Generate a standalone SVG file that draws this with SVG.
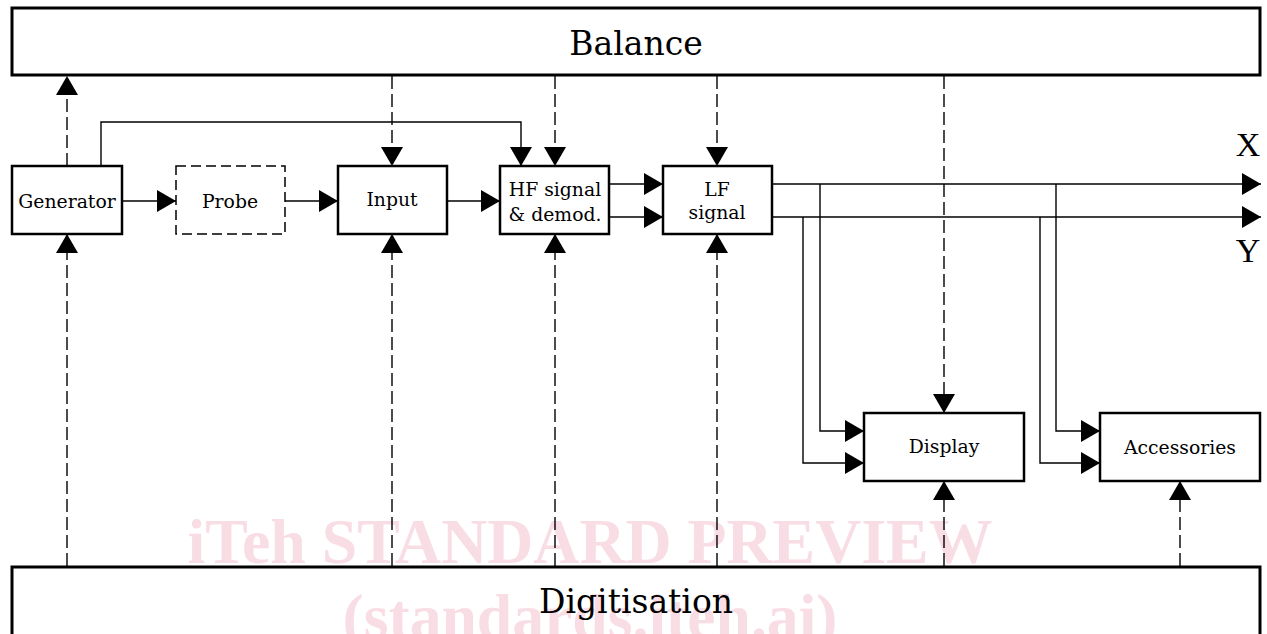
<svg xmlns="http://www.w3.org/2000/svg" width="1267" height="634" viewBox="0 0 1267 634">
<style>
.box{fill:#fff;stroke:#000;stroke-width:2.5}
.probe{fill:#fff;stroke:#000;stroke-width:1.5;stroke-dasharray:10 5}
.big{fill:none;stroke:#000;stroke-width:3}
.lbl{font-family:"DejaVu Serif",serif;font-size:18.8px;text-anchor:middle;fill:#000}
.title{font-family:"DejaVu Serif",serif;font-size:33px;text-anchor:middle;fill:#000}
.xy{font-family:"Liberation Serif",serif;font-size:34px;text-anchor:middle;fill:#000}
.c{fill:none;stroke:#000;stroke-width:1.4}
.d{fill:none;stroke:#000;stroke-width:1.4;stroke-dasharray:13 5}
.wm{font-family:"Liberation Serif",serif;font-weight:bold;font-size:64px;fill:#f9dde5;text-anchor:middle}
</style>
<defs>
<marker id="ah" viewBox="0 0 19 22" refX="19" refY="11" markerWidth="19" markerHeight="22" markerUnits="userSpaceOnUse" orient="auto">
<path d="M0,0 L19,11 L0,22 z" fill="#000" stroke="none"/>
</marker>
</defs>
<g id="watermark">
<text class="wm" x="590" y="563" textLength="805" lengthAdjust="spacingAndGlyphs">iTeh STANDARD PREVIEW</text>
<text class="wm" x="590" y="638" textLength="495" lengthAdjust="spacingAndGlyphs">(standards.iteh.ai)</text>
</g>
<g id="balance">
<rect class="big" x="12" y="8" width="1248" height="67"/>
<text class="title" x="636" y="55">Balance</text>
</g>
<g id="digitisation">
<rect class="big" x="12" y="567" width="1248" height="80"/>
<text class="title" x="636" y="613">Digitisation</text>
</g>
<g id="generator">
<rect class="box" x="12" y="166" width="110" height="68"/>
<text class="lbl" x="67" y="208">Generator</text>
</g>
<g id="probe">
<rect class="probe" x="176" y="166" width="109" height="68"/>
<text class="lbl" x="230" y="208">Probe</text>
</g>
<g id="input">
<rect class="box" x="338" y="166" width="109" height="68"/>
<text class="lbl" x="392" y="206">Input</text>
</g>
<g id="hf">
<rect class="box" x="500" y="166" width="109" height="68"/>
<text class="lbl" x="555" y="196">HF signal</text>
<text class="lbl" x="555" y="221">&amp; demod.</text>
</g>
<g id="lf">
<rect class="box" x="663" y="166" width="109" height="68"/>
<text class="lbl" x="717" y="196">LF</text>
<text class="lbl" x="717" y="219">signal</text>
</g>
<g id="display">
<rect class="box" x="864" y="413" width="160" height="68"/>
<text class="lbl" x="944" y="453">Display</text>
</g>
<g id="accessories">
<rect class="box" x="1100" y="413" width="160" height="68"/>
<text class="lbl" x="1180" y="454">Accessories</text>
</g>
<g id="outputs">
<text class="xy" x="1248" y="156">X</text>
<text class="xy" x="1248" y="262">Y</text>
</g>
<g id="connectors">
<path class="c" d="M122,201 H176" marker-end="url(#ah)"/>
<path class="c" d="M285,201 H338" marker-end="url(#ah)"/>
<path class="c" d="M447,201 H500" marker-end="url(#ah)"/>
<path class="c" d="M609,184 H663" marker-end="url(#ah)"/>
<path class="c" d="M609,217 H663" marker-end="url(#ah)"/>
<path class="c" d="M772,184 H1261" marker-end="url(#ah)"/>
<path class="c" d="M772,217 H1261" marker-end="url(#ah)"/>
<path class="c" d="M820,184 V431 H864" marker-end="url(#ah)"/>
<path class="c" d="M803,217 V463 H864" marker-end="url(#ah)"/>
<path class="c" d="M1056,184 V431 H1100" marker-end="url(#ah)"/>
<path class="c" d="M1040,217 V463 H1100" marker-end="url(#ah)"/>
<path class="c" d="M101,166 V122 H521 V166" marker-end="url(#ah)"/>
<path class="d" d="M67,166 V76" marker-end="url(#ah)"/>
<path class="d" d="M392,76 V166" marker-end="url(#ah)"/>
<path class="d" d="M555,76 V166" marker-end="url(#ah)"/>
<path class="d" d="M717,76 V166" marker-end="url(#ah)"/>
<path class="d" d="M944,76 V413" marker-end="url(#ah)"/>
<path class="d" d="M67,566 V234" marker-end="url(#ah)"/>
<path class="d" d="M392,566 V234" marker-end="url(#ah)"/>
<path class="d" d="M555,566 V234" marker-end="url(#ah)"/>
<path class="d" d="M717,566 V234" marker-end="url(#ah)"/>
<path class="d" d="M944,566 V481" marker-end="url(#ah)"/>
<path class="d" d="M1180,566 V481" marker-end="url(#ah)"/>
</g>
</svg>
